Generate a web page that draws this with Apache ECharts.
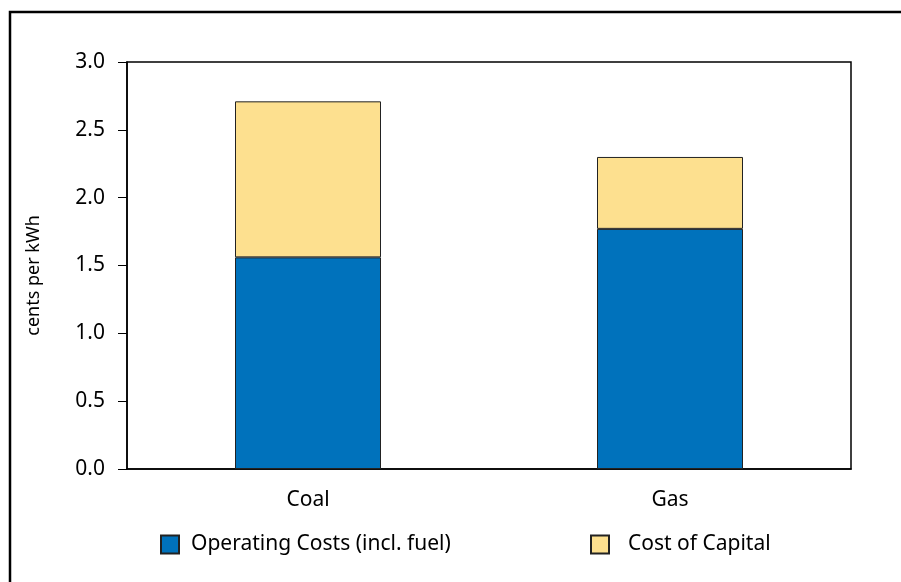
<!DOCTYPE html>
<html>
<head>
<meta charset="utf-8">
<script src="https://cdn.jsdelivr.net/npm/echarts@6/dist/echarts.min.js"></script>
<style>
  html, body { margin: 0; padding: 0; background: #fff; }
  #chart { width: 901px; height: 582px; }
</style>
</head>
<body>
<div id="chart"></div>
<script>
// Generation cost per kWh, split into operating and capital components
var categories = ['Coal', 'Gas'];
var operatingCosts = [1.56, 1.77];
var costOfCapital = [1.15, 0.53];
var yTicks = [0, 0.5, 1.0, 1.5, 2.0, 2.5, 3.0];

var FONT = '"Noto Sans", Lato, sans-serif';
var BLUE = '#0072BC';
var YELLOW = '#FDE08F';

var chart = echarts.init(document.getElementById('chart'), null, { renderer: 'canvas' });

chart.setOption({
  animation: false,
  backgroundColor: '#fff',
  graphic: [{
    type: 'rect',
    shape: { x: 10, y: 12, width: 900, height: 580 },
    style: { fill: 'none', stroke: '#000', lineWidth: 2.5 },
    silent: true
  }],
  grid: {
    left: 127, right: 50, top: 62, bottom: 113,
    show: true, borderColor: '#000', borderWidth: 1.5, backgroundColor: 'transparent'
  },
  legend: [{
    left: 160, top: 534, padding: 0,
    itemWidth: 18, itemHeight: 18, icon: 'rect',
    data: ['Operating Costs (incl. fuel)'],
    textStyle: { fontFamily: FONT, fontSize: 21, color: '#000', padding: [0, 0, 0, 7] },
    selectedMode: false
  }, {
    left: 590, top: 534, padding: 0,
    itemWidth: 18, itemHeight: 18, icon: 'rect',
    data: ['Cost of Capital'],
    textStyle: { fontFamily: FONT, fontSize: 21, color: '#000', padding: [0, 0, 0, 14] },
    selectedMode: false
  }],
  xAxis: {
    type: 'category',
    data: categories,
    axisLine: { lineStyle: { color: '#000', width: 1.5 } },
    axisTick: { show: false },
    axisLabel: { fontFamily: FONT, fontSize: 21, color: '#000', margin: 21 },
    splitLine: { show: false }
  },
  yAxis: {
    type: 'value',
    min: yTicks[0],
    max: yTicks[yTicks.length - 1],
    interval: 0.5,
    name: 'cents per kWh',
    nameLocation: 'middle',
    nameGap: 84,
    nameRotate: 90,
    nameTextStyle: { fontFamily: FONT, fontSize: 18, color: '#000', padding: [0, 20, 0, 0] },
    axisLine: { show: true, lineStyle: { color: '#000', width: 1.5 } },
    axisTick: { show: true, length: 9, lineStyle: { color: '#000', width: 1 } },
    axisLabel: {
      fontFamily: FONT, fontSize: 21, color: '#000', margin: 22,
      formatter: function (v) { return v.toFixed(1); }
    },
    splitLine: { show: false }
  },
  series: [{
    name: 'Operating Costs (incl. fuel)',
    type: 'bar',
    stack: 'cost',
    barWidth: 146,
    data: operatingCosts,
    itemStyle: { color: BLUE, borderColor: '#222', borderWidth: 1 }
  }, {
    name: 'Cost of Capital',
    type: 'bar',
    stack: 'cost',
    barWidth: 146,
    data: costOfCapital,
    itemStyle: { color: YELLOW, borderColor: '#222', borderWidth: 1 }
  }]
});
</script>
</body>
</html>
